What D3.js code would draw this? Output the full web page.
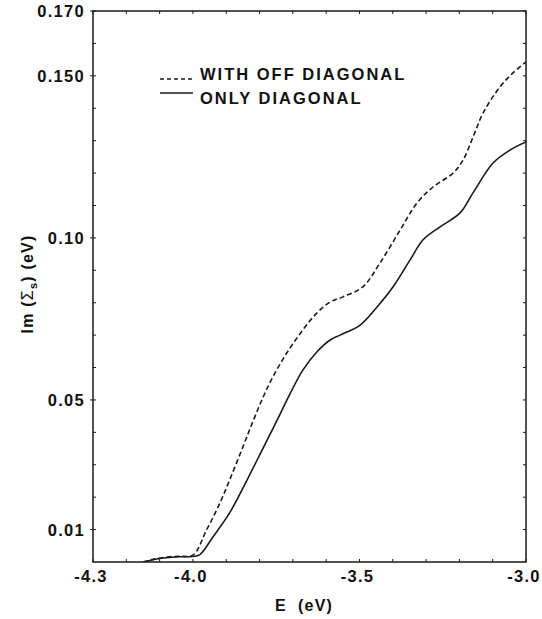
<!DOCTYPE html>
<html>
<head>
<meta charset="utf-8">
<script src="https://cdn.jsdelivr.net/npm/d3@7"></script>
<style>
  html, body { margin: 0; padding: 0; background: #fff; }
  svg { display: block; }
  text { font-family: "Liberation Sans", Arial, Helvetica, sans-serif; font-weight: bold; fill: #111; }
</style>
</head>
<body>
<svg id="chart" width="542" height="619"></svg>
<script>
// ---- data ----
const offDiagE = [-4.15, -4.12, -4.08, -4.04, -4.0, -3.959, -3.919, -3.889, -3.85, -3.82, -3.79, -3.76, -3.718, -3.67, -3.628, -3.588, -3.55, -3.49, -3.438, -3.378, -3.327, -3.279, -3.219, -3.189, -3.159, -3.129, -3.078, -3.039, -3.0];
const offDiagV = [0.0, 0.0008, 0.0015, 0.0018, 0.0021, 0.0099, 0.0182, 0.0255, 0.0355, 0.0433, 0.0507, 0.0571, 0.0645, 0.0716, 0.0768, 0.0802, 0.0818, 0.0849, 0.0923, 0.1024, 0.1108, 0.1157, 0.1200, 0.1240, 0.1311, 0.1385, 0.1466, 0.1509, 0.1543];
const diagE = [-4.15, -4.12, -4.08, -4.04, -4.0, -3.979, -3.94, -3.889, -3.838, -3.79, -3.748, -3.709, -3.67, -3.628, -3.588, -3.558, -3.498, -3.447, -3.399, -3.348, -3.309, -3.258, -3.198, -3.159, -3.099, -3.048, -3.0];
const diagV = [0.0, 0.0007, 0.0013, 0.0016, 0.0017, 0.0023, 0.0077, 0.0153, 0.0252, 0.0350, 0.0436, 0.0518, 0.0592, 0.0648, 0.0685, 0.0700, 0.0731, 0.0787, 0.0849, 0.0932, 0.0994, 0.1034, 0.1077, 0.1139, 0.1231, 0.1271, 0.1296];
const seriesNames = ["WITH OFF DIAGONAL", "ONLY DIAGONAL"];
const xTickValues = [-4.3, -4.0, -3.5, -3.0];
const xTickLabels = ["-4.3", "-4.0", "-3.5", "-3.0"];
const yTickValues = [0.01, 0.05, 0.10, 0.150, 0.170];
const yTickLabels = ["0.01", "0.05", "0.10", "0.150", "0.170"];
const xDomain = [-4.3, -3.0];
const yDomain = [0, 0.170];
const xLabel = "E  (eV)";

// ---- layout ----
const L = 93, R = 526, T = 11, B = 562;
const svg = d3.select("#chart");
const x = d3.scaleLinear().domain(xDomain).range([L, R]);
const y = d3.scaleLinear().domain(yDomain).range([B, T]);
const ink = "#1a1a1a";

// minor ticks
const xMinor = d3.range(0, 14).map(i => +(xDomain[0] + i * 0.1).toFixed(2));
const yMinor = d3.range(1, 18).map(i => +(i * 0.01).toFixed(2));
const tk = svg.append("g").attr("stroke", ink).attr("stroke-width", 1);
xMinor.forEach(v => {
  tk.append("line").attr("x1", x(v)).attr("x2", x(v)).attr("y1", B).attr("y2", B - 3);
  tk.append("line").attr("x1", x(v)).attr("x2", x(v)).attr("y1", T).attr("y2", T + 3);
});
yMinor.forEach(v => {
  tk.append("line").attr("x1", L).attr("x2", L + 3).attr("y1", y(v)).attr("y2", y(v));
  tk.append("line").attr("x1", R).attr("x2", R - 3).attr("y1", y(v)).attr("y2", y(v));
});
yTickValues.forEach(v => {
  tk.append("line").attr("x1", L - 3).attr("x2", L).attr("y1", y(v)).attr("y2", y(v));
});

// frame
svg.append("rect").attr("x", L).attr("y", T).attr("width", R - L).attr("height", B - T)
  .attr("fill", "none").attr("stroke", ink).attr("stroke-width", 1.5);

// tick labels
svg.append("g").selectAll("text").data(yTickValues).join("text")
  .attr("x", L - 8).attr("y", d => y(d) + 6)
  .attr("text-anchor", "end").attr("font-size", 16.5).attr("letter-spacing", 1.3)
  .text((d, i) => yTickLabels[i]);
svg.append("g").selectAll("text").data(xTickValues).join("text")
  .attr("x", d => x(d) - 2).attr("y", 582)
  .attr("text-anchor", "middle").attr("font-size", 16.5).attr("letter-spacing", 1.3)
  .text((d, i) => xTickLabels[i]);

// axis titles
svg.append("text").attr("x", 304).attr("y", 611).attr("text-anchor", "middle")
  .attr("font-size", 16).attr("letter-spacing", 1.2).attr("xml:space", "preserve").text(xLabel);
const yt = svg.append("text").attr("transform", "translate(33,284) rotate(-90)")
  .attr("text-anchor", "middle").attr("font-size", 16).attr("letter-spacing", 1.2);
yt.append("tspan").text("Im (");
yt.append("tspan").style("font-weight", "normal").text("Σ");
yt.append("tspan").attr("font-size", 11).attr("dy", 4).text("s");
yt.append("tspan").attr("dy", -4).text(") (eV)");

// curves
svg.append("defs").append("clipPath").attr("id", "clip")
  .append("rect").attr("x", L).attr("y", T).attr("width", R - L).attr("height", B - T);
const line = d3.line().x(d => x(d[0])).y(d => y(d[1])).curve(d3.curveCatmullRom.alpha(0.5));
const offData = offDiagE.map((e, i) => [e, offDiagV[i]]);
const diagData = diagE.map((e, i) => [e, diagV[i]]);
const plot = svg.append("g").attr("clip-path", "url(#clip)");
plot.append("path").attr("d", line(diagData)).attr("fill", "none")
  .attr("stroke", ink).attr("stroke-width", 1.6);
plot.append("path").attr("d", line(offData)).attr("fill", "none")
  .attr("stroke", ink).attr("stroke-width", 1.6).attr("stroke-dasharray", "5,3");

// legend
svg.append("line").attr("x1", 160).attr("x2", 193).attr("y1", 79).attr("y2", 79)
  .attr("stroke", ink).attr("stroke-width", 1.3).attr("stroke-dasharray", "4,3");
svg.append("line").attr("x1", 160).attr("x2", 193).attr("y1", 93).attr("y2", 93)
  .attr("stroke", ink).attr("stroke-width", 1.5);
svg.append("text").attr("x", 200).attr("y", 80).attr("font-size", 16.5).attr("letter-spacing", 2)
  .text(seriesNames[0]);
svg.append("text").attr("x", 200).attr("y", 104).attr("font-size", 16.5).attr("letter-spacing", 2)
  .text(seriesNames[1]);
</script>
</body>
</html>
